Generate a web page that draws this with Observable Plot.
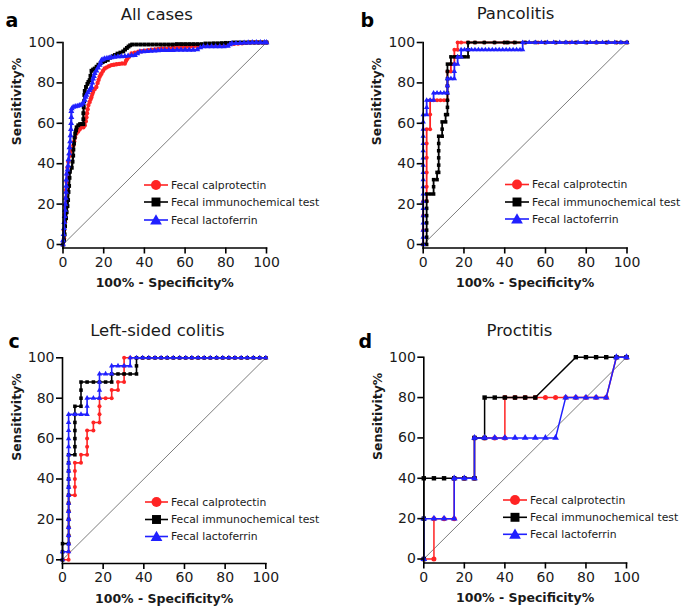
<!DOCTYPE html>
<html><head><meta charset="utf-8">
<script src="https://cdn.jsdelivr.net/npm/d3@7"></script>
<script src="https://cdn.jsdelivr.net/npm/@observablehq/plot@0.6"></script>
<style>
body{margin:0;background:#fff;}
#chart{position:relative;width:685px;height:611px;font-family:"DejaVu Sans",sans-serif;background:#fff;}
#chart svg{position:absolute;}
</style></head><body><div id="chart"></div>
<script>
const tickValues = [0,20,40,60,80,100];
const seriesNames = ["Fecal calprotectin","Fecal immunochemical test","Fecal lactoferrin"];
const seriesColors = ["#ff2424","#000000","#2020ff"];
const seriesSymbols = ["circle","square","triangle"];
const diag = [[0,0],[100,100]];
const xLabel = "100% - Specificity%";
const yLabel = "Sensitivity%";
const panelTitles = ["All cases","Pancolitis","Left-sided colitis","Proctitis"];
const panelLetters = ["a","b","c","d"];

// Panel a: All cases
const aRed = [[0,0],[0.5,3],[0.5,7],[1,11],[1,15],[1.2,19],[1.5,23],[1.5,27],[1.8,31],[2,35],[2.2,38],[2.6,41],[3.4,44],[4.3,47],[5.1,49],[5.5,51],[5.9,53],[6.6,55],[7.4,56],[8.2,57],[9,58],[10,58],[10.7,59],[11.2,61],[11.5,63],[11.8,65],[12.1,67],[12.5,69],[13.1,70.6],[13.6,72],[14,73],[14.4,74.5],[14.8,75.6],[15.6,77],[16.4,78],[17,80],[17.5,81.5],[18,83],[18.5,84],[18.9,84.7],[19.7,86],[20.5,87.1],[21.5,87.7],[22.6,88.3],[23.8,88.8],[25,89],[26.3,89.2],[27.6,89.4],[29,89.6],[30.4,89.6],[31,91],[31.6,92],[32.4,92.9],[33.7,94.6],[35.3,95],[37,95.4],[38.6,95.7],[40.2,96],[41.9,96.2],[43.5,96.4],[45.2,96.6],[46.8,96.8],[48.4,97],[50,97],[52,97.2],[54,97.4],[56,97.5],[58,97.6],[60,97.7],[62,97.8],[64,98],[66,98.2],[68,98.4],[70,98.5],[72,98.6],[74,98.8],[76,98.9],[78,99],[80,99.2],[82,99.3],[84,99.3],[86,99.5],[88,99.6],[90,99.8],[92,100],[94,100],[96,100],[98,100],[100,100]];
const aBlack = [[0,0],[0.5,2],[0.8,5],[1,9],[1.5,13],[1.8,16],[2.2,19],[2.5,22],[2.7,26],[3,29],[3.2,33],[3.4,36],[4.3,38],[4.7,41],[5,44],[5.1,47],[5.4,50],[5.7,53],[6,55],[6.4,56.5],[6.7,58],[7.5,59],[8.4,59.6],[9.2,59.6],[10,59.6],[10,62],[10,65],[10.2,68],[10.4,71],[10.5,74],[10.7,76],[11.3,78],[12,79.5],[12.5,80.5],[13.1,81.4],[13.5,83.5],[14,86],[14.8,86.6],[15.6,87.1],[16.5,88],[17.4,89],[18.5,89.8],[19.5,90.3],[20.7,90.8],[22,91.4],[23.2,92.5],[24.4,93.2],[25.5,93.8],[26.8,94.5],[28.2,95],[29.6,95.6],[30.5,96.5],[31.4,97.3],[32.2,98],[33,98.6],[34,99],[36,99],[38,99],[40,99],[42,99],[44,99],[46,99],[48,99],[50,99],[52,99],[54,99],[56,99.2],[58,99.2],[60,99.2],[62,99.2],[64,99.2],[66,99.2],[68,99.2],[70,99.5],[72,99.5],[74,99.6],[76,99.6],[78,99.7],[80,99.8],[82,99.8],[84,100],[86,100],[88,100],[90,100],[92,100],[94,100],[96,100],[98,100],[100,100]];
const aBlue = [[0,0],[0,2],[0.3,5],[0.5,8],[0.6,11],[0.8,14],[1,17],[1.1,20],[1.3,23],[1.5,26],[1.6,29],[1.6,32],[1.8,35],[2.2,37],[2.5,39],[2.7,42],[3,45],[3.2,48],[3.5,51],[3.7,54],[3.9,57],[4,60],[4.1,63],[4.1,66],[4.3,67.3],[5,68],[6,68.3],[7,68.5],[8,68.8],[9,69.2],[10,70],[10.7,71.5],[11.1,73],[11.5,74],[12.2,75.2],[13,76.4],[13.5,77.2],[14,78],[14.4,80],[14.8,82],[15.2,83.3],[15.6,84.7],[16.4,86],[17.2,87.5],[18,88.8],[18.5,90],[18.9,91.3],[19.7,91.6],[20.5,92],[21.6,92.2],[22.7,92.4],[23.8,92.6],[25.4,92.8],[27,93],[28.7,93.1],[30.4,93.2],[32,93.4],[33.7,93.6],[35.3,93.7],[36.5,94.5],[37.8,95.4],[39.5,95.5],[41.3,95.6],[43.1,95.8],[45,95.9],[46.7,96],[48.3,96.1],[50,96.2],[52,96.2],[54,96.2],[56,96.3],[58,96.3],[60,96.3],[62,96.3],[64,96.3],[66,96.5],[67.5,97.5],[69,98],[71,98],[73,98],[75,98],[77,98],[79,98],[81,98.2],[82,99],[83,99.5],[85,99.6],[87,99.7],[89,99.8],[91,99.9],[93,100],[95,100],[97,100],[99,100],[100,100]];

// Panel b: Pancolitis
const bRed = [[0,0],[0,7.1],[0,14.3],[0,21.4],[1.7,21.4],[1.7,28.6],[1.7,35.7],[1.7,42.9],[1.7,50],[1.7,57.1],[3.4,57.1],[3.4,64.3],[3.4,71.4],[5.1,71.4],[6.8,71.4],[8.5,71.4],[10.2,71.4],[11.9,71.4],[11.9,78.6],[11.9,85.7],[13.6,85.7],[13.6,89.3],[15.3,89.3],[15.3,92.9],[15.3,96.4],[16.9,96.4],[16.9,100],[18.6,100],[22,100],[25.4,100],[30,100],[35,100],[39.7,100],[41.4,100],[44.6,100],[50,100],[56.4,100],[59.8,100],[65,100],[72,100],[75,100],[80.4,100],[85,100],[90,100],[95,100],[100,100]];
const bBlack = [[0,0],[1.7,0],[1.7,3.6],[1.7,7.1],[1.7,10.7],[1.7,14.3],[1.7,17.9],[1.7,21.4],[1.7,25],[3.4,25],[5.1,25],[5.1,28.6],[5.1,32.1],[6.8,32.1],[6.8,35.7],[7.6,35.7],[7.6,39.3],[7.6,42.9],[7.6,46.4],[7.6,50],[7.6,53.6],[9.3,53.6],[9.3,57.1],[9.3,60.7],[11,60.7],[11,64.3],[11.9,64.3],[11.9,67.9],[11.9,71.4],[11.9,75],[11.9,78.6],[11.9,82.1],[11.9,85.7],[11.9,89.3],[13.6,89.3],[13.6,92.9],[15.3,92.9],[16.9,92.9],[18.6,92.9],[20.3,92.9],[22,92.9],[22,96.4],[22,100],[25.4,100],[30,100],[35,100],[40,100],[41.5,100],[45,100],[50,100],[55,100],[60,100],[65,100],[70,100],[75,100],[80,100],[85,100],[90,100],[94.5,100],[97,100],[100,100]];
const bBlue = [[0,0],[0,3.6],[0,7.1],[0,10.7],[0,14.3],[0,17.9],[0,21.4],[0,25],[0,28.6],[0,32.1],[0,35.7],[0,39.3],[0,42.9],[0,46.4],[0,50],[0,53.6],[0,57.1],[0,60.7],[0,64.3],[1.7,64.3],[1.7,67.9],[1.7,71.4],[3.4,71.4],[5.1,71.4],[5.1,75],[6.8,75],[8.5,75],[10.2,75],[11.9,75],[11.9,78.6],[11.9,82.1],[13.6,82.1],[15.3,82.1],[15.3,85.7],[15.3,89.3],[16.9,89.3],[16.9,92.9],[18.6,92.9],[18.6,96.4],[20.3,96.4],[22,96.4],[23.7,96.4],[25.4,96.4],[27.1,96.4],[28.8,96.4],[30.5,96.4],[32.2,96.4],[33.9,96.4],[35.6,96.4],[37.3,96.4],[39,96.4],[40.7,96.4],[42.4,96.4],[44.1,96.4],[45.8,96.4],[47.5,96.4],[48.8,96.4],[48.8,100],[52,100],[55,100],[58,100],[61,100],[64,100],[67,100],[70,100],[73,100],[76,100],[79,100],[82,100],[85,100],[88,100],[91,100],[94,100],[97,100],[100,100]];

// Panel c: Left-sided colitis
const cTopX = [39.4,42.4,45.5,48.5,51.5,54.5,57.6,60.6,63.6,66.7,69.7,72.7,75.8,78.8,81.8,84.8,87.9,90.9,93.9,97,100];
const cRed = [[0,0],[3,0],[3,4],[3,8],[3,12],[3,16],[3,20],[3,24],[3,28],[3,32],[6.1,32],[6.1,36],[6.1,40],[6.1,44],[6.1,48],[9.1,48],[9.1,52],[12.1,52],[12.1,56],[12.1,60],[12.1,64],[15.2,64],[15.2,68],[18.2,68],[18.2,72],[18.2,76],[18.2,80],[21.2,80],[24.2,80],[24.2,84],[27.3,84],[27.3,88],[30.3,88],[30.3,92],[30.3,96],[30.3,100],[33.3,100],[36.4,100]];
const cBlack = [[0,0],[0,4],[0,8],[3,8],[3,12],[3,16],[3,20],[3,24],[3,28],[3,32],[3,36],[3,40],[3,44],[3,48],[3,52],[6.1,52],[6.1,56],[6.1,60],[6.1,64],[6.1,68],[6.1,72],[6.1,76],[9.1,76],[9.1,80],[9.1,84],[9.1,88],[12.1,88],[15.2,88],[18.2,88],[21.2,88],[24.2,88],[24.2,92],[27.3,92],[30.3,92],[33.3,92],[36.4,92],[36.4,96],[36.4,100]];
const cBlue = [[0,0],[0,4],[3,4],[3,8],[3,12],[3,16],[3,20],[3,24],[3,28],[3,32],[3,36],[3,40],[3,44],[3,48],[3,52],[3,56],[3,60],[3,64],[3,68],[3,72],[6.1,72],[9.1,72],[12.1,72],[12.1,76],[12.1,80],[15.2,80],[18.2,80],[18.2,84],[18.2,88],[18.2,92],[21.2,92],[24.2,92],[24.2,96],[27.3,96],[30.3,96],[33.3,96],[33.3,100],[36.4,100]];

// Panel d: Proctitis
const dRed = [[0,0],[5,0],[5,20],[10,20],[15,20],[15,40],[20,40],[25,40],[25,60],[30,60],[35,60],[40,60],[40,80],[45,80],[50,80],[55,80],[60,80],[65,80],[70,80],[75,80],[80,80],[85,80],[90,80],[95,100],[100,100]];
const dBlack = [[0,0],[0,20],[0,40],[5,40],[10,40],[15,40],[20,40],[25,40],[25,60],[30,60],[30,80],[35,80],[40,80],[45,80],[50,80],[55,80],[75,100],[80,100],[85,100],[90,100],[95,100],[100,100]];
const dBlue = [[0,0],[0,20],[5,20],[10,20],[15,20],[15,40],[20,40],[25,40],[25,60],[30,60],[35,60],[40,60],[45,60],[50,60],[55,60],[60,60],[65,60],[70,80],[75,80],[80,80],[85,80],[90,80],[95,100],[100,100]];

const withTop = (s) => s.concat(cTopX.map(x => [x, 100]));
const panelSeries = [
  [aRed, aBlack, aBlue],
  [bRed, bBlack, bBlue],
  [withTop(cRed), withTop(cBlack), withTop(cBlue)],
  [dRed, dBlack, dBlue]
];

// layout (pixel positions only)
const layouts = [
  {left:0, top:0, w:342, h:300, ml:62.5, mr:76, mt:42, mb:52.5, ib:3.5, tdx:-8, tdy:-23, ldx:-57.5, ldy:-16, lx:[144,168,171], ly:[185,202,220], r:2.2, sw:2.2},
  {left:342, top:0, w:343, h:300, ml:80.7, mr:58.5, mt:42, mb:52.5, ib:3.5, tdx:-9.6, tdy:-24, ldx:-62.7, ldy:-16, lx:[163,187,190], ly:[184.5,202,219], r:2, sw:1.8},
  {left:0, top:300, w:342, h:311, ml:62, mr:76.7, mt:57.3, mb:48, ib:3.7, tdx:-6.7, tdy:-22.3, ldx:-54, ldy:-10.3, lx:[145,168,171], ly:[202,219.5,236.5], r:2, sw:1.6},
  {left:342, top:300, w:343, h:311, ml:81.3, mr:59, mt:56.7, mb:48.5, ib:4, tdx:-5.7, tdy:-21.7, ldx:-65.3, ldy:-9.7, lx:[161,185,188], ly:[200,217.3,234.3], r:2.5, sw:1.5}
];

const chart = document.getElementById("chart");

panelSeries.forEach((series, i) => {
  const L = layouts[i];
  const marks = [
    Plot.line(diag, {x: d => d[0], y: d => d[1], stroke: "#6e6e6e", strokeWidth: 0.9}),
  ];
  series.forEach((s, k) => {
    marks.push(Plot.line(s, {x: d => d[0], y: d => d[1], stroke: seriesColors[k], strokeWidth: L.sw}));
    marks.push(Plot.dot(s, {x: d => d[0], y: d => d[1], fill: seriesColors[k], symbol: seriesSymbols[k], r: L.r}));
  });
  marks.push(
    Plot.frame({anchor: "left", strokeWidth: 1.6}),
    Plot.frame({anchor: "bottom", strokeWidth: 1.6}),
    Plot.axisX({ticks: tickValues, tickSize: 6, tickPadding: 3, fontSize: 14, label: null, strokeWidth: 1.6, fill: "#1a1a1a"}),
    Plot.axisY({ticks: tickValues, tickSize: 6, tickPadding: 2, fontSize: 14, label: null, strokeWidth: 1.6, fill: "#1a1a1a"}),
    Plot.text([xLabel], {frameAnchor: "bottom", dy: 39, fontSize: 12.5, fontWeight: "bold", lineAnchor: "bottom", fill: "#1a1a1a"}),
    Plot.text([yLabel], {frameAnchor: "left", dx: -42, rotate: -90, fontSize: 12.5, fontWeight: "bold", lineAnchor: "bottom", fill: "#1a1a1a"}),
    Plot.text([panelTitles[i]], {frameAnchor: "top", dx: L.tdx, dy: L.tdy, fontSize: 16.5, lineAnchor: "bottom", fill: "#1a1a1a"}),
    Plot.text([panelLetters[i]], {frameAnchor: "top-left", dx: L.ldx, dy: L.ldy, fontSize: 19, fontWeight: "bold", textAnchor: "start", lineAnchor: "bottom", fill: "#000"})
  );
  const svg = Plot.plot({
    width: L.w, height: L.h,
    marginLeft: L.ml, marginRight: L.mr, marginTop: L.mt, marginBottom: L.mb,
    x: {domain: [0, 100]},
    y: {domain: [0, 100], insetBottom: L.ib},
    style: {fontFamily: "DejaVu Sans, sans-serif", background: "transparent", overflow: "visible"},
    marks
  });
  svg.style.left = L.left + "px";
  svg.style.top = L.top + "px";
  // legend
  const g = d3.select(svg).append("g").attr("class", "legend").attr("text-anchor", "start");
  const symTypes = [d3.symbolCircle, d3.symbolSquare, d3.symbolTriangle];
  const symSizes = [78, 80, 60];
  seriesNames.forEach((name, k) => {
    const y = L.ly[k];
    g.append("line").attr("x1", L.lx[0]).attr("x2", L.lx[1]).attr("y1", y).attr("y2", y)
      .attr("stroke", seriesColors[k]).attr("stroke-width", 1.6);
    g.append("path").attr("d", d3.symbol(symTypes[k], symSizes[k])())
      .attr("transform", `translate(${(L.lx[0] + L.lx[1]) / 2},${y + (k === 2 ? 1 : 0)})`)
      .attr("fill", seriesColors[k]);
    g.append("text").attr("x", L.lx[2]).attr("y", y).attr("dy", "0.35em")
      .attr("text-anchor", "start")
      .attr("font-size", 10.8).attr("fill", "#1a1a1a").text(name);
  });
  chart.appendChild(svg);
});
</script></body></html>
